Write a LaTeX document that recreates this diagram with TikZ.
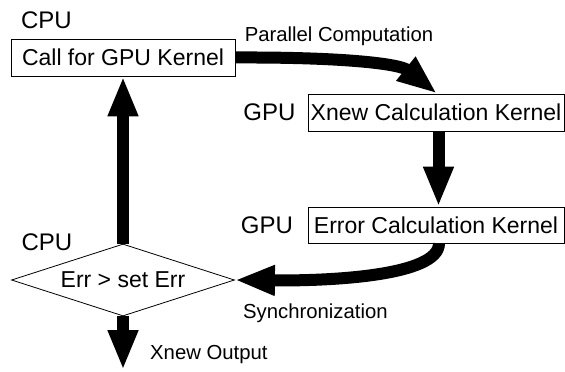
\documentclass[tikz,border=0pt]{standalone}
\usepackage{fontspec}
\setmainfont{Liberation Sans}
\usetikzlibrary{arrows.meta,shapes.geometric}

\tikzset{
  procbox/.style={draw=black,line width=0.8pt,fill=white,inner sep=0pt,
    minimum height=37pt,font=\fontsize{23}{27}\selectfont},
  decision/.style={draw=black,line width=0.8pt,fill=white,shape=diamond,
    aspect=3.1,inner sep=0pt,minimum width=223pt,minimum height=72pt,
    font=\fontsize{23}{27}\selectfont},
  unitlabel/.style={inner sep=0pt,font=\fontsize{24}{28}\selectfont},
  flowlabel/.style={inner sep=0pt,font=\fontsize{20.3}{24}\selectfont},
  bigarrow/.style={line width=12pt,-{Triangle[length=40pt,width=28pt]}}
}

\begin{document}
\begin{tikzpicture}[x=1pt,y=-1pt]
  \useasboundingbox (0,0) rectangle (565,372);

  % processing blocks
  \node[procbox,minimum width=224pt] (call) at (123,57.5) {Call for GPU Kernel};
  \node[procbox,minimum width=256pt] (xnew) at (436,112.5) {Xnew Calculation Kernel};
  \node[procbox,minimum width=256pt,minimum height=36pt] (err) at (436,225) {Error Calculation Kernel};
  \node[decision] (test) at (123,280) {Err > set Err};

  % where each block runs
  \node[unitlabel] (cpu1) at (46.5,20) {CPU};
  \node[unitlabel] (gpu1) at (269.5,112.5) {GPU};
  \node[unitlabel] (gpu2) at (267,225) {GPU};
  \node[unitlabel] (cpu2) at (47,242) {CPU};

  % flow labels
  \node[flowlabel] (par) at (339,36) {Parallel Computation};
  \node[flowlabel,anchor=west] (sync) at (243,313) {Synchronization};
  \node[flowlabel,anchor=west] (outlbl) at (150,355) {Xnew Output};

  \coordinate (outend) at (123,370);

  % control flow
  \draw[bigarrow] (call.east) .. controls (345,57) and (400,64) .. ([xshift=1pt]xnew.north);
  \draw[bigarrow] ([xshift=2.5pt]xnew.south) -- ([xshift=2.5pt]err.north);
  \draw[bigarrow] ([xshift=3pt]err.south) .. controls (439,276) and (330,281) .. (test.east);
  \draw[bigarrow] (test.north) -- (call.south);
  \draw[bigarrow] (test.south) -- (outend);
\end{tikzpicture}
\end{document}
